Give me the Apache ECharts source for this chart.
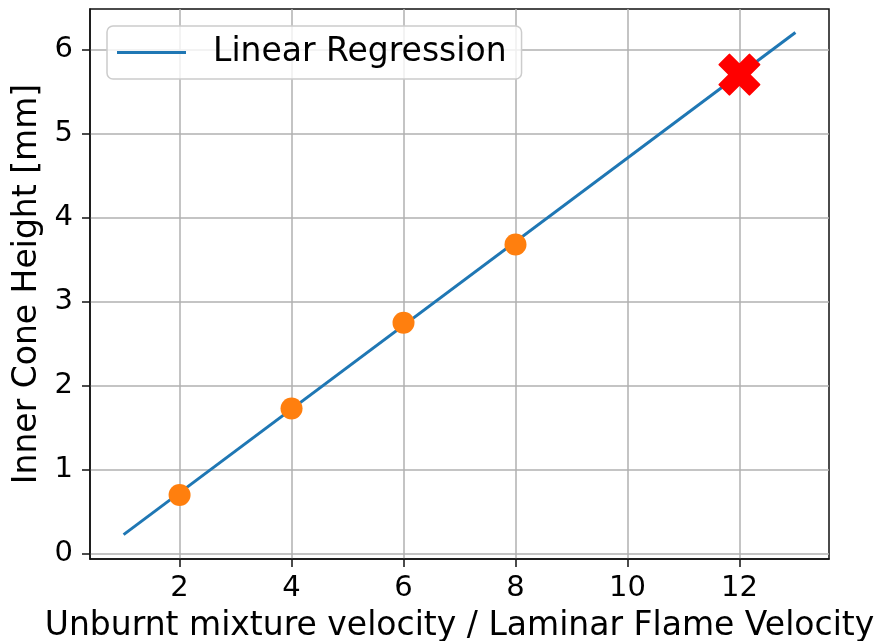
<!DOCTYPE html>
<html>
<head>
<meta charset="utf-8">
<script src="https://cdn.jsdelivr.net/npm/echarts@6/dist/echarts.min.js"></script>
<style>
  html, body { margin: 0; padding: 0; background: #fff; }
  #chart { width: 879px; height: 641px; }
</style>
</head>
<body>
<div id="chart"></div>
<script>
// Fitted regression line (end points) and measured samples
const fitX = [1, 13];
const fitY = [0.23, 6.2];
const measuredX = [2, 4, 6, 8];
const measuredY = [0.70, 1.73, 2.75, 3.68];
const predictedX = [12];
const predictedY = [5.70];
const xTicks = [2, 4, 6, 8, 10, 12];
const yTicks = [0, 1, 2, 3, 4, 5, 6];

const FONT = 'DejaVu Sans';
const INK = '#000000';
const GRID = '#b0b0b0';

const chart = echarts.init(document.getElementById('chart'), null, { renderer: 'canvas' });

// matplotlib-style filled "X" marker
const xMarker = 'path://M-1,-2 L0,-1 L1,-2 L2,-1 L1,0 L2,1 L1,2 L0,1 L-1,2 L-2,1 L-1,0 L-2,-1 Z';

chart.setOption({
  animation: false,
  backgroundColor: '#ffffff',
  grid: {
    left: 90, right: 50, top: 9, bottom: 82,
    containLabel: false,
    outerBoundsMode: 'none',
    show: true, borderColor: '#111', borderWidth: 1.5,
    backgroundColor: 'transparent'
  },
  legend: {
    show: true,
    left: 107, top: 26,
    data: [{ name: 'Linear Regression', icon: 'rect' }],
    itemWidth: 69, itemHeight: 3,
    padding: [10, 15, 10, 10],
    backgroundColor: 'rgba(255,255,255,0.8)',
    borderColor: '#cccccc', borderWidth: 1.5, borderRadius: 6,
    textStyle: { fontFamily: FONT, fontSize: 33, color: INK, padding: [0, 0, 0, 22] }
  },
  xAxis: {
    type: 'value', min: 0.4, max: 13.6,
    name: 'Unburnt mixture velocity / Laminar Flame Velocity',
    nameLocation: 'middle', nameGap: 51,
    nameTextStyle: { fontFamily: FONT, fontSize: 33, color: INK },
    axisLine: { show: true, onZero: false, lineStyle: { color: '#111', width: 1.5 } },
    axisTick: { show: true, inside: false, length: 8, customValues: xTicks, lineStyle: { color: '#111', width: 1.5 } },
    axisLabel: { show: true, margin: 15, customValues: xTicks, fontFamily: FONT, fontSize: 29, color: INK },
    splitLine: { show: true, lineStyle: { color: GRID, width: 1.5 } }
  },
  yAxis: {
    type: 'value', min: -0.06, max: 6.48,
    name: 'Inner Cone Height [mm]',
    nameLocation: 'middle', nameGap: 46, nameRotate: 90,
    nameTextStyle: { fontFamily: FONT, fontSize: 33, color: INK },
    axisLine: { show: true, onZero: false, lineStyle: { color: '#111', width: 1.5 } },
    axisTick: { show: true, inside: false, length: 8, customValues: yTicks, lineStyle: { color: '#111', width: 1.5 } },
    axisLabel: { show: true, margin: 17, customValues: yTicks, fontFamily: FONT, fontSize: 29, color: INK, padding: [6, 0, 0, 0] },
    splitLine: { show: true, lineStyle: { color: GRID, width: 1.5 } }
  },
  series: [
    {
      name: 'Linear Regression',
      type: 'line',
      symbol: 'none',
      data: fitX.map((x, i) => [x, fitY[i]]),
      lineStyle: { color: '#1f77b4', width: 3 },
      itemStyle: { color: '#1f77b4' },
      z: 2
    },
    {
      name: 'measured',
      type: 'scatter',
      symbol: 'circle',
      symbolSize: 22,
      data: measuredX.map((x, i) => [x, measuredY[i]]),
      itemStyle: { color: '#ff7f0e', opacity: 1 },
      z: 3
    },
    {
      name: 'predicted',
      type: 'scatter',
      symbol: xMarker,
      symbolSize: 40,
      data: predictedX.map((x, i) => [x, predictedY[i]]),
      itemStyle: { color: '#ff0000', borderColor: '#ff0000', borderWidth: 2, borderJoin: 'round', opacity: 1 },
      z: 4
    }
  ]
});
</script>
</body>
</html>
